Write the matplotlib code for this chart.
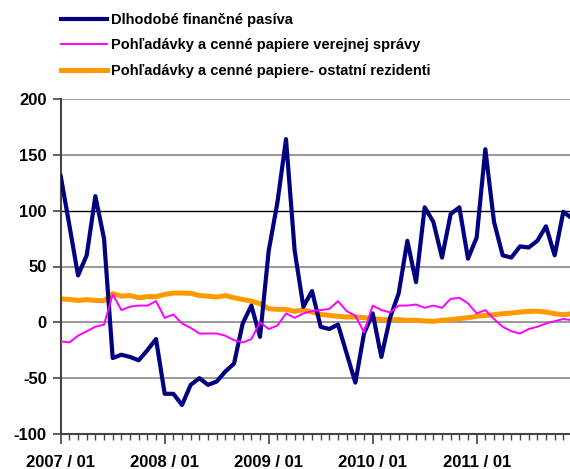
import numpy as np
import matplotlib
matplotlib.use("Agg")
import matplotlib.pyplot as plt
from matplotlib.ticker import MultipleLocator

plt.rcParams['font.family'] = ['Liberation Sans', 'DejaVu Sans']
plt.rcParams['axes.unicode_minus'] = False

# monthly data 2007/01 - 2011/12
months = np.arange(60)
year_labels = ["2007 / 01", "2008 / 01", "2009 / 01", "2010 / 01", "2011 / 01"]

dlhodobe = [131, 87, 42, 60, 113, 75, -32, -29, -31, -34, -25, -15,
            -64, -64, -74, -56, -50, -56, -53, -44, -37, -1, 15, -13,
            64, 107, 164, 64, 14, 28, -4, -6, -2, -28, -54, -10,
            8, -31, 4, 26, 73, 36, 103, 90, 58, 97, 103, 57,
            76, 155, 90, 60, 58, 68, 67, 73, 86, 60, 99, 93]

verejna_sprava = [-17, -18, -12, -8, -4, -2, 25, 11, 14, 15, 15, 19,
                  4, 7, -1, -5, -10, -10, -10, -12, -16, -18, -15, 0,
                  -6, -3, 8, 4, 8, 10, 11, 12, 19, 10, 6, -9,
                  15, 11, 9, 15, 15, 16, 13, 15, 13, 21, 22, 17,
                  8, 11, 3, -4, -8, -10, -6, -4, -1, 1, 3, 2]

ostatni_rezidenti = [21, 20.5, 19.6, 20.3, 19.6, 19.3, 25.6, 23.5, 24, 22, 23, 23,
                     25, 26.2, 26.2, 26, 24, 23.5, 22.6, 24, 22, 20.5, 19, 16.7,
                     12.2, 11.6, 11.6, 9.8, 11.3, 9.2, 7.1, 6.2, 5.4, 4.8, 4.8, 4.2,
                     3.3, 2.4, 2.4, 2.4, 1.8, 1.8, 1.2, 0.9, 1.8, 2.4, 3.3, 4.2,
                     5.4, 6.2, 6.8, 7.7, 8.3, 9.2, 9.8, 10, 9.2, 7.7, 6.8, 7.7]

labels = ["Dlhodobé finančné pasíva",
          "Pohľadávky a cenné papiere verejnej správy",
          "Pohľadávky a cenné papiere- ostatní rezidenti"]

fig = plt.figure(figsize=(5.7, 4.69), dpi=100)
ax = fig.add_axes([60.7 / 570, 35 / 469, (572 - 60.7) / 570, 335 / 469])

l1, = ax.plot(months, dlhodobe, color='#000080', lw=3.0, solid_joinstyle='round', zorder=3)
l2, = ax.plot(months, verejna_sprava, color='#FF00FF', lw=1.4, zorder=4)
l3, = ax.plot(months, ostatni_rezidenti, color='#FF9900', lw=3.6, zorder=2)

ax.set_xlim(0, 59)
ax.set_ylim(-100, 200)
ax.yaxis.set_major_locator(MultipleLocator(50))
ax.set_xticks(np.arange(0, 60, 12))
ax.set_xticklabels(year_labels)
ax.set_xticks(np.arange(60), minor=True)

ax.grid(axis='y', color='#888888', lw=1.2)
for val, gl in zip(ax.get_yticks(), ax.get_ygridlines()):
    if val == 100:
        gl.set_color('black')
        gl.set_linewidth(1.0)

for s in ['top', 'right']:
    ax.spines[s].set_visible(False)
ax.spines['left'].set_color('#444444')
ax.spines['left'].set_linewidth(1.5)
ax.spines['bottom'].set_color('#444444')
ax.spines['bottom'].set_linewidth(1.5)

ax.tick_params(axis='y', direction='out', length=6, width=1.2, color='#444444',
               labelsize=12, pad=4)
ax.tick_params(axis='x', which='major', direction='out', length=7, width=1.2,
               color='#444444', labelsize=12, pad=8)
ax.tick_params(axis='x', which='minor', direction='out', length=4, width=1,
               color='#444444')
for t in ax.get_xticklabels() + ax.get_yticklabels():
    t.set_fontweight('bold')

fig.legend([l1, l2, l3], labels, loc='upper left',
           bbox_to_anchor=(61 / 570, 1 - 13 / 469), frameon=False,
           prop={'weight': 'bold', 'size': 10.5}, handlelength=3.15,
           handletextpad=0.3, labelspacing=0.78, borderpad=0, borderaxespad=0)

fig.savefig('out.png', dpi=100)
